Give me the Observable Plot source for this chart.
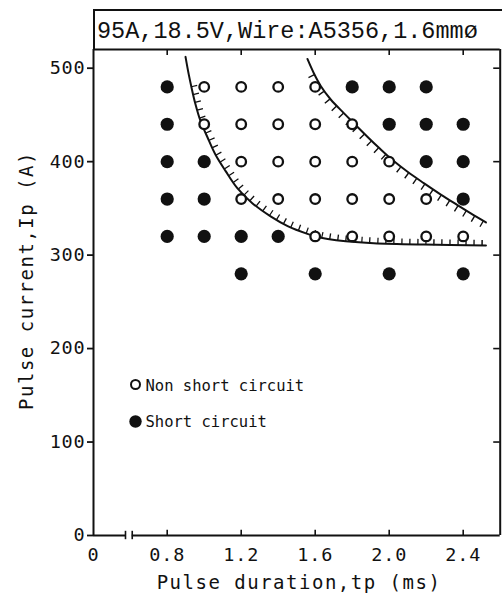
<!DOCTYPE html>
<html>
<head>
<meta charset="utf-8">
<script src="https://cdn.jsdelivr.net/npm/d3@7"></script>
<script src="https://cdn.jsdelivr.net/npm/@observablehq/plot@0.6"></script>
<style>
  body { margin: 0; background: #fff; }
  #wrap { position: relative; width: 502px; height: 595px; overflow: hidden; background: #fff; }
  #title {
    position: absolute; left: 93px; top: 9px; width: 430px;
    border-top: 2px solid #111; border-left: 2px solid #111;
    font-family: "Liberation Mono", monospace; font-size: 23.5px; color: #111;
    line-height: 35px; padding-top: 3px; box-sizing: content-box; height: 35px;
    padding-left: 2px; white-space: nowrap; letter-spacing: 0px;
  }
  #chart svg { display: block; }
</style>
</head>
<body>
<div id="wrap">
  <div id="chart"></div>
  <div id="title">95A,18.5V,Wire:A5356,1.6mmø</div>
</div>
<script>
// ---- data ----
const tpTicks = [0, 0.8, 1.2, 1.6, 2.0, 2.4];
const ipTicks = [0, 100, 200, 300, 400, 500];
const axisBreak = [0.523, 0.611];

// [tp (ms), Ip (A)]
const shortCircuit = [
  [0.8,480],[1.8,480],[2.0,480],[2.2,480],
  [0.8,440],[2.0,440],[2.2,440],[2.4,440],
  [0.8,400],[1.0,400],[2.2,400],[2.4,400],
  [0.8,360],[1.0,360],[2.4,360],
  [0.8,320],[1.0,320],[1.2,320],[1.4,320],
  [1.2,280],[1.6,280],[2.0,280],[2.4,280]
];
const nonShortCircuit = [
  [1.0,480],[1.2,480],[1.4,480],[1.6,480],
  [1.0,440],[1.2,440],[1.4,440],[1.6,440],[1.8,440],
  [1.2,400],[1.4,400],[1.6,400],[1.8,400],[2.0,400],
  [1.2,360],[1.4,360],[1.6,360],[1.8,360],[2.0,360],[2.2,360],
  [1.6,320],[1.8,320],[2.0,320],[2.2,320],[2.4,320]
];

// boundary curves
const lowerTp = [0.899,0.917,0.932,0.951,0.980,1.017,1.062,1.116,1.179,1.260,1.359,1.451,1.558,1.614,1.668,1.765,1.917,2.187,2.523];
const lowerIp = [512.1,492.8,478.8,462.8,443.5,426.4,407.1,389.9,371.7,355.6,341.4,331.0,322.7,319.4,317.3,314.9,312.8,311.3,310.3];
const upperTp = [1.558,1.592,1.630,1.684,1.756,1.819,1.882,1.949,2.018,2.101,2.189,2.279,2.369,2.441,2.523];
const upperIp = [509.9,494.9,481.0,466.5,451.7,439.2,426.7,414.0,401.7,388.9,376.8,364.8,353.5,344.6,335.0];

const legendLabels = ["Non short circuit", "Short circuit"];
const xLabel = "Pulse duration,tp (ms)";
const yLabel = "Pulse current,Ip (A)";

// ---- build ----
const lower = lowerTp.map((t, i) => ({tp: t, ip: lowerIp[i]}));
const upper = upperTp.map((t, i) => ({tp: t, ip: upperIp[i]}));
const ink = "#111";
const tickFmt = d => d === 0 ? "0" : d3.format(".1f")(d);

const plot = Plot.plot({
  width: 502, height: 595,
  marginLeft: 93, marginRight: 2, marginTop: 49, marginBottom: 60,
  x: {type: "linear", domain: [0, 0.6, 2.6], range: [93, 129.7, 499.7]},
  y: {type: "linear", domain: [0, 520], range: [535, 49]},
  style: {fontFamily: "DejaVu Sans Mono", background: "white", color: ink},
  marks: [
    // frame
    Plot.ruleX([0], {y1: 0, y2: 520, stroke: ink, strokeWidth: 2}),
    Plot.ruleX([2.6], {y1: 0, y2: 520, stroke: ink, strokeWidth: 2}),
    Plot.ruleY([520], {x1: 0, x2: 2.6, stroke: ink, strokeWidth: 2}),
    Plot.ruleY([{a: 0, b: axisBreak[0]}, {a: axisBreak[1], b: 2.6}], {y: 0, x1: "a", x2: "b", stroke: ink, strokeWidth: 2}),
    Plot.ruleX(axisBreak, {y1: -4.5, y2: 4.5, stroke: ink, strokeWidth: 1.6}),
    // inner ticks
    Plot.ruleX(tpTicks.slice(1), {y1: 0, y2: 5.5, stroke: ink, strokeWidth: 1.6}),
    Plot.ruleX(tpTicks.slice(1), {y1: 520, y2: 513.5, stroke: ink, strokeWidth: 1.6}),
    Plot.ruleY(ipTicks.slice(1), {x1: 2.6, x2: 2.565, stroke: ink, strokeWidth: 1.6}),
    // axes
    Plot.axisY({ticks: ipTicks, tickSize: 6, tickPadding: 2, fontSize: 18.5, label: null, strokeWidth: 1.8}),
    Plot.axisX({ticks: tpTicks, tickSize: 0, tickPadding: 12, fontSize: 18.5, label: null, tickFormat: tickFmt}),
    Plot.text([xLabel], {frameAnchor: "bottom", textAnchor: "middle", lineAnchor: "bottom", dx: 2, dy: 53, fontSize: 19, fill: ink}),
    Plot.text([yLabel], {frameAnchor: "left", textAnchor: "middle", lineAnchor: "bottom", rotate: -90, dx: -61, dy: -12, fontSize: 19, fill: ink}),
    // boundaries with hatching
    Plot.line(lower.slice(2), {x: "tp", y: "ip", curve: "catmull-rom", stroke: ink, strokeWidth: 6, strokeLinecap: "butt", strokeLinejoin: "miter", strokeDasharray: "1.3 6.7", dx: 2.5, dy: -2.5}),
    Plot.line(upper.slice(1), {x: "tp", y: "ip", curve: "catmull-rom", stroke: ink, strokeWidth: 6.5, strokeLinecap: "butt", strokeLinejoin: "miter", strokeDasharray: "1.4 8.5", dx: -2.6, dy: 2.6}),
    Plot.line(lower, {x: "tp", y: "ip", curve: "catmull-rom", stroke: ink, strokeWidth: 2}),
    Plot.line(upper, {x: "tp", y: "ip", curve: "catmull-rom", stroke: ink, strokeWidth: 2}),
    // points
    Plot.dot(shortCircuit, {x: d => d[0], y: d => d[1], r: 6.6, fill: ink, stroke: "none"}),
    Plot.dot(nonShortCircuit, {x: d => d[0], y: d => d[1], r: 4.8, fill: "white", stroke: ink, strokeWidth: 2.3}),
    // legend
    Plot.dot([legendLabels[0]], {frameAnchor: "top-left", dx: 42, dy: 335, r: 4.5, fill: "white", stroke: ink, strokeWidth: 2}),
    Plot.dot([legendLabels[1]], {frameAnchor: "top-left", dx: 42, dy: 372, r: 6.2, fill: ink}),
    Plot.text([legendLabels[0]], {frameAnchor: "top-left", dx: 52, dy: 341.7, textAnchor: "start", lineAnchor: "bottom", fontSize: 15.5, fill: ink}),
    Plot.text([legendLabels[1]], {frameAnchor: "top-left", dx: 52, dy: 377.7, textAnchor: "start", lineAnchor: "bottom", fontSize: 15.5, fill: ink})
  ]
});
// letter spacing to match the typewriter-like spacing of the scan
d3.select(plot).selectAll("text").each(function () {
  const t = this.textContent;
  if (t === xLabel || t === yLabel) this.style.letterSpacing = "1.5px";
  else if (legendLabels.includes(t)) this.style.letterSpacing = "0px";
  else this.style.letterSpacing = "0.8px";
});
document.getElementById("chart").appendChild(plot);
</script>
</body>
</html>
